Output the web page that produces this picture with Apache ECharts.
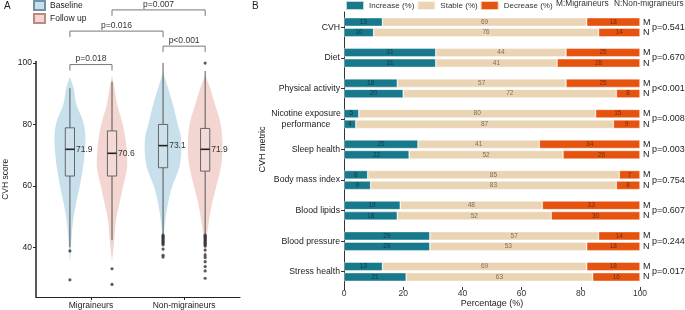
<!DOCTYPE html>
<html>
<head>
<meta charset="utf-8">
<script src="https://cdn.jsdelivr.net/npm/echarts@6/dist/echarts.min.js"></script>
<style>
html, body { margin: 0; padding: 0; background: #fff; }
#chart { width: 685px; height: 310px; }
</style>
</head>
<body>
<div id="chart"></div>
<script>
// ---- panel A: CVH score by group, baseline vs follow up ----
const groups = ['Migraineurs', 'Non-migraineurs']
// [lower whisker, Q1, median, Q3, upper whisker]
const baselineBox = [[40, 63.2, 71.9, 78.9, 91.8], [44, 65.9, 73.1, 80, 100]]
const followBox = [[42.3, 63.2, 70.6, 77.9, 93.9], [44, 64.8, 71.9, 78.7, 97.4]]
const baselineOutliers = [
  [38.8, 29.4],
  [44, 43.6, 43.2, 42.8, 42.4, 42, 41.6, 41.2, 40.8, 39.4, 37.4, 36.8],
]
const followOutliers = [
  [33, 27.9],
  [100, 44, 43.6, 43.2, 42.8, 42.4, 42, 41.6, 41.2, 40.8, 40.4, 39.1, 37.5, 36.7, 35.3, 33.7, 32.3, 29.9],
]
// violin outline: [score, density]
const baselineViolin = [
  [[95.5, 0], [91.8, 3.7], [86.3, 6.7], [80.9, 13.3], [75.6, 15.5], [70, 14.5], [65.8, 13], [59.7, 9.7], [54.4, 6.3], [48.9, 3.3], [43.4, 1.7], [38, 0.7], [35.3, 0]],
  [[97, 0], [91.8, 5], [86.3, 10], [80.9, 14], [75.5, 18], [70, 18], [65.8, 16], [59.7, 9], [54.4, 5], [48.9, 2.3], [44.6, 1], [40, 0.4], [36.5, 0]],
]
const followViolin = [
  [[96, 0], [91.8, 2.5], [86.3, 5.3], [80.9, 10], [75.6, 13.3], [70, 15], [65.8, 15], [59.7, 11], [54.4, 7.5], [48.9, 4], [43.4, 2.5], [38, 1], [35.5, 0]],
  [[96, 0], [91.8, 5], [86.3, 10], [80.9, 15], [75.5, 17], [70, 17], [65.8, 15.5], [59.7, 11], [54.4, 7], [48.9, 4], [43.4, 1.7], [37, 0.7], [33, 0]],
]
// significance brackets: [group, time(0 baseline / 1 follow up)] ends
const bracketEnds = [[[0, 1], [1, 1]], [[0, 0], [1, 0]], [[1, 0], [1, 1]], [[0, 0], [0, 1]]]
const bracketLevels = [117.3, 110.4, 105.5, 99.5]
const bracketLabels = ['p=0.007', 'p=0.016', 'p<0.001', 'p=0.018']

// ---- panel B: change in CVH metrics ----
const metrics = ['CVH', 'Diet', 'Physical activity', 'Nicotine exposure\nperformance', 'Sleep health',
  'Body mass index', 'Blood lipids', 'Blood pressure', 'Stress health']
const increaseM = [13, 31, 18, 5, 25, 8, 19, 29, 13]
const stableM = [69, 44, 57, 80, 41, 85, 48, 57, 69]
const decreaseM = [18, 25, 25, 15, 34, 7, 33, 14, 18]
const increaseN = [10, 31, 20, 4, 22, 9, 18, 29, 21]
const stableN = [76, 41, 72, 87, 52, 83, 52, 53, 63]
const decreaseN = [14, 28, 8, 9, 26, 8, 30, 18, 16]
const pValues = ['p=0.541', 'p=0.670', 'p<0.001', 'p=0.008', 'p=0.003', 'p=0.754', 'p=0.607', 'p=0.244', 'p=0.017']

const FONT = 'Liberation Sans, Arial, sans-serif'
const DODGE = 0.226
const DENSITY_SCALE = 1 / 93
const blue = '#c8dfec'
const pink = '#f3d5d1'
const teal = '#17798b'
const beige = '#ebd4b4'
const orange = '#e6530f'

const chart = echarts.init(document.getElementById('chart'), null, { renderer: 'canvas' })

function groupX(g, t) {
  return g + 1 + (t === 0 ? -DODGE : DODGE)
}

function violinItem(boxes, profiles, t, color) {
  return function (params, api) {
    const g = params.dataIndex
    const x = groupX(g, t)
    const prof = profiles[g]
    const right = prof.map(([v, d]) => api.coord([x + d * DENSITY_SCALE, v]))
    const left = prof.slice().reverse().map(([v, d]) => api.coord([x - d * DENSITY_SCALE, v]))
    const [lo, q1, med, q3, hi] = boxes[g]
    const c = api.coord([x, med])
    const yLo = api.coord([x, lo])[1]
    const yQ1 = api.coord([x, q1])[1]
    const yQ3 = api.coord([x, q3])[1]
    const yHi = api.coord([x, hi])[1]
    const hw = 4.6
    const line = { stroke: '#555', lineWidth: 1 }
    return {
      type: 'group',
      children: [
        { type: 'polygon', shape: { points: right.concat(left), smooth: 0.35 }, style: { fill: color } },
        { type: 'line', shape: { x1: c[0], y1: yHi, x2: c[0], y2: yQ3 }, style: line },
        { type: 'line', shape: { x1: c[0], y1: yQ1, x2: c[0], y2: yLo }, style: line },
        { type: 'rect', shape: { x: c[0] - hw, y: yQ3, width: hw * 2, height: yQ1 - yQ3 }, style: { fill: 'rgba(255,255,255,0.12)', stroke: '#666', lineWidth: 1 } },
        { type: 'line', shape: { x1: c[0] - hw, y1: c[1], x2: c[0] + hw, y2: c[1] }, style: { stroke: '#222', lineWidth: 1.6 } },
        { type: 'text', x: c[0] + hw + 1.5, y: c[1], style: { text: med.toFixed(1), fill: '#333', font: '8.5px ' + FONT, verticalAlign: 'middle' } },
      ],
    }
  }
}

function outlierData(list, t) {
  const out = []
  list.forEach((vals, g) => vals.forEach(v => out.push([groupX(g, t), v])))
  return out
}

function bracketItem(params, api) {
  const i = params.dataIndex
  const [a, b] = bracketEnds[i]
  const lvl = bracketLevels[i]
  const p1 = api.coord([groupX(a[0], a[1]), lvl])
  const p2 = api.coord([groupX(b[0], b[1]), lvl])
  const drop = 6
  return {
    type: 'group',
    children: [
      { type: 'polyline', shape: { points: [[p1[0], p1[1] + drop], p1, p2, [p2[0], p2[1] + drop]] }, style: { stroke: '#777', lineWidth: 1, fill: null } },
      { type: 'text', x: (p1[0] + p2[0]) / 2, y: p1[1] - 1, style: { text: bracketLabels[i], fill: '#333', font: '8.5px ' + FONT, align: 'center', verticalAlign: 'bottom' } },
    ],
  }
}

const labelStyle = { show: true, position: 'inside', fontSize: 6.5, color: 'rgba(0,0,0,0.5)', fontFamily: FONT }
function barSeries(name, data, stack, color) {
  return {
    name, type: 'bar', xAxisIndex: 1, yAxisIndex: 1, stack, data,
    barWidth: 8.6, barGap: '22%',
    itemStyle: { color, borderColor: 'rgba(255,255,255,0.7)', borderWidth: 0.6 },
    label: labelStyle,
    emphasis: { disabled: true },
  }
}

const option = {
  animation: false,
  textStyle: { fontFamily: FONT },
  grid: [
    { left: 36, right: 445, top: 61.5, bottom: 13, outerBoundsMode: 'none', containLabel: false },
    { left: 344, right: 45, top: 12, bottom: 23, outerBoundsMode: 'none', containLabel: false },
  ],
  legend: [
    {
      data: ['Baseline', 'Follow up'], orient: 'vertical', left: 33, top: 0, padding: 0,
      itemWidth: 11, itemHeight: 9, itemGap: 2, icon: 'rect',
      textStyle: { fontSize: 8.5, color: '#222', fontFamily: FONT },
    },
    {
      data: ['Increase (%)', 'Stable (%)', 'Decrease (%)'], left: 345, top: 0, padding: 0,
      itemWidth: 18, itemHeight: 9, itemGap: 2, icon: 'rect',
      textStyle: { fontSize: 8, color: '#333', fontFamily: FONT },
    },
  ],
  graphic: [
    { type: 'text', left: 4, top: 1, style: { text: 'A', font: '10px ' + FONT, fill: '#222' } },
    { type: 'text', left: 252, top: 1, style: { text: 'B', font: '10px ' + FONT, fill: '#222' } },
    { type: 'text', left: 556, top: 0, style: { text: 'M:Migraineurs', font: '8.3px ' + FONT, fill: '#333' } },
    { type: 'text', left: 614, top: 0, style: { text: 'N:Non-migraineurs', font: '8.3px ' + FONT, fill: '#333' } },
  ],
  xAxis: [
    {
      gridIndex: 0, type: 'value', min: 0.41, max: 2.6,
      splitLine: { show: false },
      axisLine: { lineStyle: { color: '#222', width: 1.2 } },
      axisTick: { customValues: [1, 2], length: 3, lineStyle: { color: '#222' } },
      axisLabel: { customValues: [1, 2], formatter: v => groups[Math.round(v) - 1], fontSize: 8.5, color: '#222', margin: 4 },
    },
    {
      gridIndex: 1, type: 'value', min: 0, max: 100, interval: 20,
      splitLine: { show: false },
      axisLine: { lineStyle: { color: '#333' } },
      axisTick: { show: true, length: 3, lineStyle: { color: '#333' } },
      axisLabel: { fontSize: 8.5, color: '#333', margin: 2 },
      name: 'Percentage (%)', nameLocation: 'middle', nameGap: 12, nameMoveOverlap: false,
      nameTextStyle: { fontSize: 9, color: '#222' },
    },
  ],
  yAxis: [
    {
      gridIndex: 0, type: 'value', min: 23.8, max: 100.5,
      splitLine: { show: false },
      axisLine: { show: true, lineStyle: { color: '#222', width: 1.5 } },
      axisTick: { show: true, customValues: [40, 60, 80, 100], length: 3, lineStyle: { color: '#222' } },
      axisLabel: { customValues: [40, 60, 80, 100], fontSize: 8.5, color: '#222', margin: 4 },
      name: 'CVH score', nameLocation: 'middle', nameGap: 26,
      nameTextStyle: { fontSize: 8.5, color: '#222' },
    },
    {
      gridIndex: 1, type: 'category', data: metrics, inverse: true,
      axisLine: { lineStyle: { color: '#333' } },
      axisTick: { show: true, alignWithLabel: true, length: 3, lineStyle: { color: '#333' } },
      axisLabel: {
        fontSize: 8.7, color: '#222', margin: 4,
        formatter: v => v.includes('\n') ? v.split('\n').map(s => '{c|' + s + '}').join('\n') : v,
        rich: { c: { width: 68, align: 'center', fontSize: 8.7, color: '#222', lineHeight: 10.5 } },
      },
      name: 'CVH metric', nameLocation: 'middle', nameGap: 74,
      nameTextStyle: { fontSize: 9, color: '#222' },
    },
    {
      gridIndex: 1, type: 'category', data: metrics, inverse: true, position: 'right',
      axisLine: { show: false }, axisTick: { show: false },
      axisLabel: { formatter: () => 'M\nN', fontSize: 9, lineHeight: 10.5, color: '#222', margin: 3 },
    },
    {
      gridIndex: 1, type: 'category', data: pValues, inverse: true, position: 'right', offset: 9,
      axisLine: { show: false }, axisTick: { show: false },
      axisLabel: { fontSize: 9, color: '#222', margin: 3 },
    },
  ],
  series: [
    {
      name: 'Baseline', type: 'custom', xAxisIndex: 0, yAxisIndex: 0, data: [0, 1],
      renderItem: violinItem(baselineBox, baselineViolin, 0, blue),
      itemStyle: { color: blue, borderColor: '#6f94aa', borderWidth: 1 },
    },
    {
      name: 'Follow up', type: 'custom', xAxisIndex: 0, yAxisIndex: 0, data: [0, 1],
      renderItem: violinItem(followBox, followViolin, 1, pink),
      itemStyle: { color: pink, borderColor: '#b98982', borderWidth: 1 },
    },
    {
      type: 'scatter', xAxisIndex: 0, yAxisIndex: 0, symbolSize: 3.2,
      data: outlierData(baselineOutliers, 0).concat(outlierData(followOutliers, 1)),
      itemStyle: { color: '#333' }, silent: true,
    },
    {
      type: 'custom', xAxisIndex: 0, yAxisIndex: 0, data: bracketLabels.map((_, i) => i),
      renderItem: bracketItem, silent: true,
    },
    barSeries('Increase (%)', increaseM, 'M', teal),
    barSeries('Stable (%)', stableM, 'M', beige),
    barSeries('Decrease (%)', decreaseM, 'M', orange),
    barSeries('Increase (%)', increaseN, 'N', teal),
    barSeries('Stable (%)', stableN, 'N', beige),
    barSeries('Decrease (%)', decreaseN, 'N', orange),
  ],
}

chart.setOption(option)
</script>
</body>
</html>
